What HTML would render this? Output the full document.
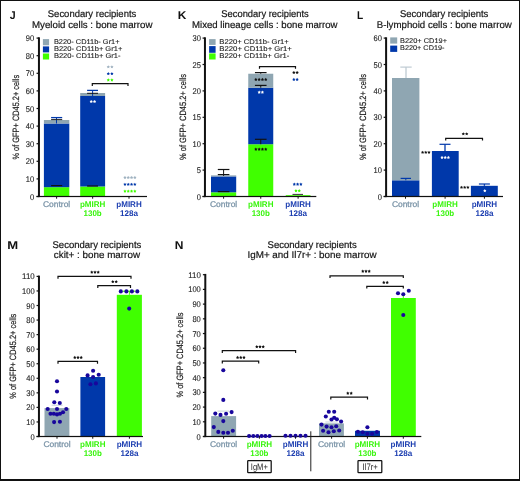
<!DOCTYPE html>
<html><head><meta charset="utf-8"><style>
html,body{margin:0;padding:0;background:#fff;overflow:hidden;width:520px;height:481px;}
svg{display:block;font-family:"Liberation Sans", sans-serif;will-change:transform;text-rendering:geometricPrecision;}
</style></head><body>
<svg width="520" height="481" viewBox="0 0 520 481">
<rect width="520" height="481" fill="#fff"/>
<rect x="42.90" y="39.10" width="6.20" height="6.20" fill="#8fa6b2"/>
<rect x="42.90" y="46.40" width="6.20" height="6.00" fill="#0038aa"/>
<rect x="42.90" y="53.50" width="6.20" height="6.00" fill="#40ff00"/>
<rect x="43.90" y="187.17" width="25.40" height="9.33" fill="#40ff00"/>
<rect x="43.90" y="123.50" width="25.40" height="63.67" fill="#0038aa"/>
<rect x="43.90" y="120.00" width="25.40" height="3.50" fill="#8fa6b2"/>
<rect x="80.20" y="186.47" width="24.90" height="10.03" fill="#40ff00"/>
<rect x="80.20" y="96.00" width="24.90" height="90.47" fill="#0038aa"/>
<rect x="80.20" y="93.00" width="24.90" height="3.00" fill="#8fa6b2"/>
<rect x="209.10" y="39.10" width="6.50" height="5.80" fill="#8fa6b2"/>
<rect x="209.10" y="46.10" width="6.50" height="6.70" fill="#0038aa"/>
<rect x="209.10" y="53.40" width="6.50" height="6.10" fill="#40ff00"/>
<rect x="211.00" y="192.28" width="25.20" height="4.22" fill="#40ff00"/>
<rect x="211.00" y="176.44" width="25.20" height="15.84" fill="#0038aa"/>
<rect x="211.00" y="175.38" width="25.20" height="1.06" fill="#8fa6b2"/>
<rect x="248.25" y="144.23" width="25.00" height="52.27" fill="#40ff00"/>
<rect x="248.25" y="87.70" width="25.00" height="56.53" fill="#0038aa"/>
<rect x="248.25" y="73.74" width="25.00" height="13.96" fill="#8fa6b2"/>
<rect x="285.75" y="195.18" width="24.75" height="1.32" fill="#40ff00"/>
<rect x="390.20" y="37.40" width="7.00" height="6.20" fill="#8fa6b2"/>
<rect x="390.20" y="45.60" width="7.00" height="6.30" fill="#0038aa"/>
<rect x="392.00" y="180.30" width="27.40" height="16.20" fill="#0038aa"/>
<rect x="392.00" y="78.00" width="27.40" height="102.30" fill="#8fa6b2"/>
<rect x="431.90" y="151.00" width="26.80" height="45.50" fill="#0038aa"/>
<rect x="470.90" y="185.80" width="26.90" height="10.70" fill="#0038aa"/>
<rect x="44.50" y="408.10" width="24.90" height="28.40" fill="#8fa6b2"/>
<rect x="80.40" y="377.00" width="24.70" height="59.50" fill="#0038aa"/>
<rect x="116.80" y="294.80" width="25.10" height="141.70" fill="#40ff00"/>
<rect x="211.20" y="416.10" width="24.90" height="20.40" fill="#8fa6b2"/>
<rect x="319.00" y="423.40" width="24.90" height="13.10" fill="#8fa6b2"/>
<rect x="355.00" y="430.80" width="25.00" height="5.70" fill="#0038aa"/>
<rect x="391.00" y="298.00" width="24.80" height="138.50" fill="#40ff00"/>
<rect x="37.95" y="37.30" width="2.00" height="159.80" fill="#111"/>
<rect x="36.55" y="195.90" width="110.45" height="1.20" fill="#111"/>
<rect x="36.55" y="195.90" width="2.40" height="1.20" fill="#111"/>
<text x="34.20" y="199.50" font-size="8.3" fill="#1e1e1e" text-anchor="end" font-weight="normal" textLength="4.20" lengthAdjust="spacingAndGlyphs" stroke="#1e1e1e" stroke-width="0.12">0</text>
<rect x="36.55" y="178.30" width="2.40" height="1.20" fill="#111"/>
<text x="34.20" y="181.90" font-size="8.3" fill="#1e1e1e" text-anchor="end" font-weight="normal" textLength="8.40" lengthAdjust="spacingAndGlyphs" stroke="#1e1e1e" stroke-width="0.12">10</text>
<rect x="36.55" y="160.70" width="2.40" height="1.20" fill="#111"/>
<text x="34.20" y="164.30" font-size="8.3" fill="#1e1e1e" text-anchor="end" font-weight="normal" textLength="8.40" lengthAdjust="spacingAndGlyphs" stroke="#1e1e1e" stroke-width="0.12">20</text>
<rect x="36.55" y="143.10" width="2.40" height="1.20" fill="#111"/>
<text x="34.20" y="146.70" font-size="8.3" fill="#1e1e1e" text-anchor="end" font-weight="normal" textLength="8.40" lengthAdjust="spacingAndGlyphs" stroke="#1e1e1e" stroke-width="0.12">30</text>
<rect x="36.55" y="125.50" width="2.40" height="1.20" fill="#111"/>
<text x="34.20" y="129.10" font-size="8.3" fill="#1e1e1e" text-anchor="end" font-weight="normal" textLength="8.40" lengthAdjust="spacingAndGlyphs" stroke="#1e1e1e" stroke-width="0.12">40</text>
<rect x="36.55" y="107.90" width="2.40" height="1.20" fill="#111"/>
<text x="34.20" y="111.50" font-size="8.3" fill="#1e1e1e" text-anchor="end" font-weight="normal" textLength="8.40" lengthAdjust="spacingAndGlyphs" stroke="#1e1e1e" stroke-width="0.12">50</text>
<rect x="36.55" y="90.30" width="2.40" height="1.20" fill="#111"/>
<text x="34.20" y="93.90" font-size="8.3" fill="#1e1e1e" text-anchor="end" font-weight="normal" textLength="8.40" lengthAdjust="spacingAndGlyphs" stroke="#1e1e1e" stroke-width="0.12">60</text>
<rect x="36.55" y="72.70" width="2.40" height="1.20" fill="#111"/>
<text x="34.20" y="76.30" font-size="8.3" fill="#1e1e1e" text-anchor="end" font-weight="normal" textLength="8.40" lengthAdjust="spacingAndGlyphs" stroke="#1e1e1e" stroke-width="0.12">70</text>
<rect x="36.55" y="55.10" width="2.40" height="1.20" fill="#111"/>
<text x="34.20" y="58.70" font-size="8.3" fill="#1e1e1e" text-anchor="end" font-weight="normal" textLength="8.40" lengthAdjust="spacingAndGlyphs" stroke="#1e1e1e" stroke-width="0.12">80</text>
<rect x="36.55" y="37.50" width="2.40" height="1.20" fill="#111"/>
<text x="34.20" y="41.10" font-size="8.3" fill="#1e1e1e" text-anchor="end" font-weight="normal" textLength="8.40" lengthAdjust="spacingAndGlyphs" stroke="#1e1e1e" stroke-width="0.12">90</text>
<rect x="203.95" y="37.30" width="2.00" height="159.80" fill="#111"/>
<rect x="202.55" y="195.90" width="113.75" height="1.20" fill="#111"/>
<rect x="202.55" y="195.90" width="2.40" height="1.20" fill="#111"/>
<text x="201.00" y="199.50" font-size="8.3" fill="#1e1e1e" text-anchor="end" font-weight="normal" textLength="4.20" lengthAdjust="spacingAndGlyphs" stroke="#1e1e1e" stroke-width="0.12">0</text>
<rect x="202.55" y="169.50" width="2.40" height="1.20" fill="#111"/>
<text x="201.00" y="173.10" font-size="8.3" fill="#1e1e1e" text-anchor="end" font-weight="normal" textLength="4.20" lengthAdjust="spacingAndGlyphs" stroke="#1e1e1e" stroke-width="0.12">5</text>
<rect x="202.55" y="143.10" width="2.40" height="1.20" fill="#111"/>
<text x="201.00" y="146.70" font-size="8.3" fill="#1e1e1e" text-anchor="end" font-weight="normal" textLength="8.40" lengthAdjust="spacingAndGlyphs" stroke="#1e1e1e" stroke-width="0.12">10</text>
<rect x="202.55" y="116.70" width="2.40" height="1.20" fill="#111"/>
<text x="201.00" y="120.30" font-size="8.3" fill="#1e1e1e" text-anchor="end" font-weight="normal" textLength="8.40" lengthAdjust="spacingAndGlyphs" stroke="#1e1e1e" stroke-width="0.12">15</text>
<rect x="202.55" y="90.30" width="2.40" height="1.20" fill="#111"/>
<text x="201.00" y="93.90" font-size="8.3" fill="#1e1e1e" text-anchor="end" font-weight="normal" textLength="8.40" lengthAdjust="spacingAndGlyphs" stroke="#1e1e1e" stroke-width="0.12">20</text>
<rect x="202.55" y="63.90" width="2.40" height="1.20" fill="#111"/>
<text x="201.00" y="67.50" font-size="8.3" fill="#1e1e1e" text-anchor="end" font-weight="normal" textLength="8.40" lengthAdjust="spacingAndGlyphs" stroke="#1e1e1e" stroke-width="0.12">25</text>
<rect x="202.55" y="37.50" width="2.40" height="1.20" fill="#111"/>
<text x="201.00" y="41.10" font-size="8.3" fill="#1e1e1e" text-anchor="end" font-weight="normal" textLength="8.40" lengthAdjust="spacingAndGlyphs" stroke="#1e1e1e" stroke-width="0.12">30</text>
<rect x="385.10" y="37.30" width="2.00" height="159.80" fill="#111"/>
<rect x="383.70" y="195.90" width="119.30" height="1.20" fill="#111"/>
<rect x="383.70" y="195.90" width="2.40" height="1.20" fill="#111"/>
<text x="382.00" y="199.50" font-size="8.3" fill="#1e1e1e" text-anchor="end" font-weight="normal" textLength="4.20" lengthAdjust="spacingAndGlyphs" stroke="#1e1e1e" stroke-width="0.12">0</text>
<rect x="383.70" y="169.50" width="2.40" height="1.20" fill="#111"/>
<text x="382.00" y="173.10" font-size="8.3" fill="#1e1e1e" text-anchor="end" font-weight="normal" textLength="8.40" lengthAdjust="spacingAndGlyphs" stroke="#1e1e1e" stroke-width="0.12">10</text>
<rect x="383.70" y="143.10" width="2.40" height="1.20" fill="#111"/>
<text x="382.00" y="146.70" font-size="8.3" fill="#1e1e1e" text-anchor="end" font-weight="normal" textLength="8.40" lengthAdjust="spacingAndGlyphs" stroke="#1e1e1e" stroke-width="0.12">20</text>
<rect x="383.70" y="116.70" width="2.40" height="1.20" fill="#111"/>
<text x="382.00" y="120.30" font-size="8.3" fill="#1e1e1e" text-anchor="end" font-weight="normal" textLength="8.40" lengthAdjust="spacingAndGlyphs" stroke="#1e1e1e" stroke-width="0.12">30</text>
<rect x="383.70" y="90.30" width="2.40" height="1.20" fill="#111"/>
<text x="382.00" y="93.90" font-size="8.3" fill="#1e1e1e" text-anchor="end" font-weight="normal" textLength="8.40" lengthAdjust="spacingAndGlyphs" stroke="#1e1e1e" stroke-width="0.12">40</text>
<rect x="383.70" y="63.90" width="2.40" height="1.20" fill="#111"/>
<text x="382.00" y="67.50" font-size="8.3" fill="#1e1e1e" text-anchor="end" font-weight="normal" textLength="8.40" lengthAdjust="spacingAndGlyphs" stroke="#1e1e1e" stroke-width="0.12">50</text>
<rect x="383.70" y="37.50" width="2.40" height="1.20" fill="#111"/>
<text x="382.00" y="41.10" font-size="8.3" fill="#1e1e1e" text-anchor="end" font-weight="normal" textLength="8.40" lengthAdjust="spacingAndGlyphs" stroke="#1e1e1e" stroke-width="0.12">60</text>
<rect x="37.95" y="275.60" width="2.00" height="161.50" fill="#111"/>
<rect x="36.55" y="435.90" width="106.45" height="1.20" fill="#111"/>
<rect x="36.55" y="435.90" width="2.40" height="1.20" fill="#111"/>
<text x="34.70" y="439.50" font-size="8.3" fill="#1e1e1e" text-anchor="end" font-weight="normal" textLength="4.20" lengthAdjust="spacingAndGlyphs" stroke="#1e1e1e" stroke-width="0.12">0</text>
<rect x="36.55" y="421.35" width="2.40" height="1.20" fill="#111"/>
<text x="34.70" y="424.95" font-size="8.3" fill="#1e1e1e" text-anchor="end" font-weight="normal" textLength="8.40" lengthAdjust="spacingAndGlyphs" stroke="#1e1e1e" stroke-width="0.12">10</text>
<rect x="36.55" y="406.79" width="2.40" height="1.20" fill="#111"/>
<text x="34.70" y="410.39" font-size="8.3" fill="#1e1e1e" text-anchor="end" font-weight="normal" textLength="8.40" lengthAdjust="spacingAndGlyphs" stroke="#1e1e1e" stroke-width="0.12">20</text>
<rect x="36.55" y="392.24" width="2.40" height="1.20" fill="#111"/>
<text x="34.70" y="395.84" font-size="8.3" fill="#1e1e1e" text-anchor="end" font-weight="normal" textLength="8.40" lengthAdjust="spacingAndGlyphs" stroke="#1e1e1e" stroke-width="0.12">30</text>
<rect x="36.55" y="377.68" width="2.40" height="1.20" fill="#111"/>
<text x="34.70" y="381.28" font-size="8.3" fill="#1e1e1e" text-anchor="end" font-weight="normal" textLength="8.40" lengthAdjust="spacingAndGlyphs" stroke="#1e1e1e" stroke-width="0.12">40</text>
<rect x="36.55" y="363.13" width="2.40" height="1.20" fill="#111"/>
<text x="34.70" y="366.73" font-size="8.3" fill="#1e1e1e" text-anchor="end" font-weight="normal" textLength="8.40" lengthAdjust="spacingAndGlyphs" stroke="#1e1e1e" stroke-width="0.12">50</text>
<rect x="36.55" y="348.57" width="2.40" height="1.20" fill="#111"/>
<text x="34.70" y="352.17" font-size="8.3" fill="#1e1e1e" text-anchor="end" font-weight="normal" textLength="8.40" lengthAdjust="spacingAndGlyphs" stroke="#1e1e1e" stroke-width="0.12">60</text>
<rect x="36.55" y="334.02" width="2.40" height="1.20" fill="#111"/>
<text x="34.70" y="337.62" font-size="8.3" fill="#1e1e1e" text-anchor="end" font-weight="normal" textLength="8.40" lengthAdjust="spacingAndGlyphs" stroke="#1e1e1e" stroke-width="0.12">70</text>
<rect x="36.55" y="319.46" width="2.40" height="1.20" fill="#111"/>
<text x="34.70" y="323.06" font-size="8.3" fill="#1e1e1e" text-anchor="end" font-weight="normal" textLength="8.40" lengthAdjust="spacingAndGlyphs" stroke="#1e1e1e" stroke-width="0.12">80</text>
<rect x="36.55" y="304.91" width="2.40" height="1.20" fill="#111"/>
<text x="34.70" y="308.51" font-size="8.3" fill="#1e1e1e" text-anchor="end" font-weight="normal" textLength="8.40" lengthAdjust="spacingAndGlyphs" stroke="#1e1e1e" stroke-width="0.12">90</text>
<rect x="36.55" y="290.35" width="2.40" height="1.20" fill="#111"/>
<text x="34.70" y="293.95" font-size="8.3" fill="#1e1e1e" text-anchor="end" font-weight="normal" textLength="12.60" lengthAdjust="spacingAndGlyphs" stroke="#1e1e1e" stroke-width="0.12">100</text>
<rect x="36.55" y="275.80" width="2.40" height="1.20" fill="#111"/>
<text x="34.70" y="279.40" font-size="8.3" fill="#1e1e1e" text-anchor="end" font-weight="normal" textLength="12.60" lengthAdjust="spacingAndGlyphs" stroke="#1e1e1e" stroke-width="0.12">110</text>
<rect x="204.30" y="273.90" width="2.00" height="163.20" fill="#111"/>
<rect x="202.90" y="435.90" width="218.40" height="1.20" fill="#111"/>
<rect x="202.90" y="435.90" width="2.40" height="1.20" fill="#111"/>
<text x="200.80" y="439.50" font-size="8.3" fill="#1e1e1e" text-anchor="end" font-weight="normal" textLength="4.20" lengthAdjust="spacingAndGlyphs" stroke="#1e1e1e" stroke-width="0.12">0</text>
<rect x="202.90" y="421.19" width="2.40" height="1.20" fill="#111"/>
<text x="200.80" y="424.79" font-size="8.3" fill="#1e1e1e" text-anchor="end" font-weight="normal" textLength="8.40" lengthAdjust="spacingAndGlyphs" stroke="#1e1e1e" stroke-width="0.12">10</text>
<rect x="202.90" y="406.48" width="2.40" height="1.20" fill="#111"/>
<text x="200.80" y="410.08" font-size="8.3" fill="#1e1e1e" text-anchor="end" font-weight="normal" textLength="8.40" lengthAdjust="spacingAndGlyphs" stroke="#1e1e1e" stroke-width="0.12">20</text>
<rect x="202.90" y="391.77" width="2.40" height="1.20" fill="#111"/>
<text x="200.80" y="395.37" font-size="8.3" fill="#1e1e1e" text-anchor="end" font-weight="normal" textLength="8.40" lengthAdjust="spacingAndGlyphs" stroke="#1e1e1e" stroke-width="0.12">30</text>
<rect x="202.90" y="377.06" width="2.40" height="1.20" fill="#111"/>
<text x="200.80" y="380.66" font-size="8.3" fill="#1e1e1e" text-anchor="end" font-weight="normal" textLength="8.40" lengthAdjust="spacingAndGlyphs" stroke="#1e1e1e" stroke-width="0.12">40</text>
<rect x="202.90" y="362.35" width="2.40" height="1.20" fill="#111"/>
<text x="200.80" y="365.95" font-size="8.3" fill="#1e1e1e" text-anchor="end" font-weight="normal" textLength="8.40" lengthAdjust="spacingAndGlyphs" stroke="#1e1e1e" stroke-width="0.12">50</text>
<rect x="202.90" y="347.65" width="2.40" height="1.20" fill="#111"/>
<text x="200.80" y="351.25" font-size="8.3" fill="#1e1e1e" text-anchor="end" font-weight="normal" textLength="8.40" lengthAdjust="spacingAndGlyphs" stroke="#1e1e1e" stroke-width="0.12">60</text>
<rect x="202.90" y="332.94" width="2.40" height="1.20" fill="#111"/>
<text x="200.80" y="336.54" font-size="8.3" fill="#1e1e1e" text-anchor="end" font-weight="normal" textLength="8.40" lengthAdjust="spacingAndGlyphs" stroke="#1e1e1e" stroke-width="0.12">70</text>
<rect x="202.90" y="318.23" width="2.40" height="1.20" fill="#111"/>
<text x="200.80" y="321.83" font-size="8.3" fill="#1e1e1e" text-anchor="end" font-weight="normal" textLength="8.40" lengthAdjust="spacingAndGlyphs" stroke="#1e1e1e" stroke-width="0.12">80</text>
<rect x="202.90" y="303.52" width="2.40" height="1.20" fill="#111"/>
<text x="200.80" y="307.12" font-size="8.3" fill="#1e1e1e" text-anchor="end" font-weight="normal" textLength="8.40" lengthAdjust="spacingAndGlyphs" stroke="#1e1e1e" stroke-width="0.12">90</text>
<rect x="202.90" y="288.81" width="2.40" height="1.20" fill="#111"/>
<text x="200.80" y="292.41" font-size="8.3" fill="#1e1e1e" text-anchor="end" font-weight="normal" textLength="12.60" lengthAdjust="spacingAndGlyphs" stroke="#1e1e1e" stroke-width="0.12">100</text>
<rect x="202.90" y="274.10" width="2.40" height="1.20" fill="#111"/>
<text x="200.80" y="277.70" font-size="8.3" fill="#1e1e1e" text-anchor="end" font-weight="normal" textLength="12.60" lengthAdjust="spacingAndGlyphs" stroke="#1e1e1e" stroke-width="0.12">110</text>
<rect x="0.00" y="0.00" width="520.00" height="1.00" fill="#111"/>
<rect x="0.00" y="0.00" width="1.00" height="481.00" fill="#111"/>
<rect x="519.00" y="0.00" width="1.00" height="481.00" fill="#111"/>
<rect x="0.00" y="479.00" width="520.00" height="2.00" fill="#111"/>
<text x="9.70" y="18.80" font-size="11.3" fill="#111" text-anchor="start" font-weight="bold" textLength="5.90" lengthAdjust="spacingAndGlyphs">J</text>
<text x="47.80" y="17.00" font-size="9.8" fill="#151515" text-anchor="start" font-weight="normal" textLength="88.50" lengthAdjust="spacingAndGlyphs" stroke="#151515" stroke-width="0.2">Secondary recipients</text>
<text x="32.00" y="28.10" font-size="9.8" fill="#151515" text-anchor="start" font-weight="normal" textLength="120.50" lengthAdjust="spacingAndGlyphs" stroke="#151515" stroke-width="0.2">Myeloid cells : bone marrow</text>
<text transform="translate(18.60,159.50) rotate(-90)" x="0" y="0" font-size="9.2" fill="#1a1a1a" stroke="#1a1a1a" stroke-width="0.18" textLength="84.60" lengthAdjust="spacingAndGlyphs">% of GFP+ CD45.2+ cells</text>
<text x="53.90" y="44.10" font-size="6.8" fill="#1c1c1c" text-anchor="start" font-weight="normal" textLength="65.70" lengthAdjust="spacingAndGlyphs" stroke="#1c1c1c" stroke-width="0.1">B220- CD11b- Gr1+</text>
<text x="53.90" y="51.10" font-size="6.8" fill="#1c1c1c" text-anchor="start" font-weight="normal" textLength="68.40" lengthAdjust="spacingAndGlyphs" stroke="#1c1c1c" stroke-width="0.1">B220- CD11b+ Gr1+</text>
<text x="53.90" y="58.00" font-size="6.8" fill="#1c1c1c" text-anchor="start" font-weight="normal" textLength="66.70" lengthAdjust="spacingAndGlyphs" stroke="#1c1c1c" stroke-width="0.1">B220- CD11b+ Gr1-</text>
<line x1="51.10" y1="185.60" x2="62.20" y2="185.60" stroke="#111" stroke-width="1.2"/>
<line x1="56.50" y1="117.40" x2="56.50" y2="123.50" stroke="#0038aa" stroke-width="1.0"/>
<line x1="51.10" y1="117.60" x2="62.20" y2="117.60" stroke="#0038aa" stroke-width="1.3"/>
<line x1="51.10" y1="119.60" x2="62.20" y2="119.60" stroke="#222" stroke-width="1.0"/>
<line x1="87.10" y1="186.00" x2="98.00" y2="186.00" stroke="#111" stroke-width="1.2"/>
<line x1="92.60" y1="90.40" x2="92.60" y2="96.00" stroke="#0038aa" stroke-width="1.0"/>
<line x1="87.10" y1="90.40" x2="98.00" y2="90.40" stroke="#0038aa" stroke-width="1.3"/>
<line x1="87.10" y1="93.30" x2="98.00" y2="93.30" stroke="#111" stroke-width="1.0"/>
<path d="M91.25,99.90 L91.81,100.83 L92.87,101.07 L92.15,101.89 L92.25,102.98 L91.25,102.55 L90.25,102.98 L90.35,101.89 L89.63,101.07 L90.69,100.83Z M94.55,99.90 L95.11,100.83 L96.17,101.07 L95.45,101.89 L95.55,102.98 L94.55,102.55 L93.55,102.98 L93.65,101.89 L92.93,101.07 L93.99,100.83Z" fill="#fff"/>
<path d="M92.30,85.90 V83.70 H128.00 V85.90" fill="none" stroke="#111" stroke-width="1.2"/>
<path d="M108.30,65.20 L108.86,66.13 L109.92,66.37 L109.20,67.19 L109.30,68.28 L108.30,67.85 L107.30,68.28 L107.40,67.19 L106.68,66.37 L107.74,66.13Z M111.90,65.20 L112.46,66.13 L113.52,66.37 L112.80,67.19 L112.90,68.28 L111.90,67.85 L110.90,68.28 L111.00,67.19 L110.28,66.37 L111.34,66.13Z" fill="#9fb2c0"/>
<path d="M108.30,72.00 L108.86,72.93 L109.92,73.17 L109.20,73.99 L109.30,75.08 L108.30,74.65 L107.30,75.08 L107.40,73.99 L106.68,73.17 L107.74,72.93Z M111.90,72.00 L112.46,72.93 L113.52,73.17 L112.80,73.99 L112.90,75.08 L111.90,74.65 L110.90,75.08 L111.00,73.99 L110.28,73.17 L111.34,72.93Z" fill="#0038aa"/>
<path d="M108.30,78.30 L108.86,79.23 L109.92,79.47 L109.20,80.29 L109.30,81.38 L108.30,80.95 L107.30,81.38 L107.40,80.29 L106.68,79.47 L107.74,79.23Z M111.90,78.30 L112.46,79.23 L113.52,79.47 L112.80,80.29 L112.90,81.38 L111.90,80.95 L110.90,81.38 L111.00,80.29 L110.28,79.47 L111.34,79.23Z" fill="#40ff00"/>
<path d="M124.95,175.90 L125.51,176.83 L126.57,177.07 L125.85,177.89 L125.95,178.98 L124.95,178.55 L123.95,178.98 L124.05,177.89 L123.33,177.07 L124.39,176.83Z M128.25,175.90 L128.81,176.83 L129.87,177.07 L129.15,177.89 L129.25,178.98 L128.25,178.55 L127.25,178.98 L127.35,177.89 L126.63,177.07 L127.69,176.83Z M131.55,175.90 L132.11,176.83 L133.17,177.07 L132.45,177.89 L132.55,178.98 L131.55,178.55 L130.55,178.98 L130.65,177.89 L129.93,177.07 L130.99,176.83Z M134.85,175.90 L135.41,176.83 L136.47,177.07 L135.75,177.89 L135.85,178.98 L134.85,178.55 L133.85,178.98 L133.95,177.89 L133.23,177.07 L134.29,176.83Z" fill="#9fb2c0"/>
<path d="M124.95,182.70 L125.51,183.63 L126.57,183.87 L125.85,184.69 L125.95,185.78 L124.95,185.35 L123.95,185.78 L124.05,184.69 L123.33,183.87 L124.39,183.63Z M128.25,182.70 L128.81,183.63 L129.87,183.87 L129.15,184.69 L129.25,185.78 L128.25,185.35 L127.25,185.78 L127.35,184.69 L126.63,183.87 L127.69,183.63Z M131.55,182.70 L132.11,183.63 L133.17,183.87 L132.45,184.69 L132.55,185.78 L131.55,185.35 L130.55,185.78 L130.65,184.69 L129.93,183.87 L130.99,183.63Z M134.85,182.70 L135.41,183.63 L136.47,183.87 L135.75,184.69 L135.85,185.78 L134.85,185.35 L133.85,185.78 L133.95,184.69 L133.23,183.87 L134.29,183.63Z" fill="#0038aa"/>
<path d="M124.95,189.50 L125.51,190.43 L126.57,190.67 L125.85,191.49 L125.95,192.58 L124.95,192.15 L123.95,192.58 L124.05,191.49 L123.33,190.67 L124.39,190.43Z M128.25,189.50 L128.81,190.43 L129.87,190.67 L129.15,191.49 L129.25,192.58 L128.25,192.15 L127.25,192.58 L127.35,191.49 L126.63,190.67 L127.69,190.43Z M131.55,189.50 L132.11,190.43 L133.17,190.67 L132.45,191.49 L132.55,192.58 L131.55,192.15 L130.55,192.58 L130.65,191.49 L129.93,190.67 L130.99,190.43Z M134.85,189.50 L135.41,190.43 L136.47,190.67 L135.75,191.49 L135.85,192.58 L134.85,192.15 L133.85,192.58 L133.95,191.49 L133.23,190.67 L134.29,190.43Z" fill="#40ff00"/>
<rect x="56.10" y="196.50" width="1.00" height="2.20" fill="#111"/>
<rect x="92.15" y="196.50" width="1.00" height="2.20" fill="#111"/>
<rect x="128.50" y="196.50" width="1.00" height="2.20" fill="#111"/>
<text x="56.60" y="206.60" font-size="8.3" fill="#7d96a9" text-anchor="middle" font-weight="normal" textLength="27.20" lengthAdjust="spacingAndGlyphs" stroke="#7d96a9" stroke-width="0.3">Control</text>
<text x="92.65" y="206.60" font-size="8.2" fill="#38f50c" text-anchor="middle" font-weight="bold" textLength="25.50" lengthAdjust="spacingAndGlyphs">pMIRH</text>
<text x="92.65" y="215.80" font-size="8.2" fill="#38f50c" text-anchor="middle" font-weight="bold" textLength="18.20" lengthAdjust="spacingAndGlyphs">130b</text>
<text x="129.00" y="206.60" font-size="8.2" fill="#1b3db0" text-anchor="middle" font-weight="bold" textLength="25.50" lengthAdjust="spacingAndGlyphs">pMIRH</text>
<text x="129.00" y="215.80" font-size="8.2" fill="#1b3db0" text-anchor="middle" font-weight="bold" textLength="18.00" lengthAdjust="spacingAndGlyphs">128a</text>
<text x="177.80" y="18.90" font-size="11.3" fill="#111" text-anchor="start" font-weight="bold" textLength="8.60" lengthAdjust="spacingAndGlyphs">K</text>
<text x="221.30" y="17.00" font-size="9.8" fill="#151515" text-anchor="start" font-weight="normal" textLength="87.50" lengthAdjust="spacingAndGlyphs" stroke="#151515" stroke-width="0.2">Secondary recipients</text>
<text x="192.00" y="28.10" font-size="9.8" fill="#151515" text-anchor="start" font-weight="normal" textLength="145.50" lengthAdjust="spacingAndGlyphs" stroke="#151515" stroke-width="0.2">Mixed lineage cells : bone marrow</text>
<text transform="translate(186.00,160.00) rotate(-90)" x="0" y="0" font-size="9.2" fill="#1a1a1a" stroke="#1a1a1a" stroke-width="0.18" textLength="86.00" lengthAdjust="spacingAndGlyphs">% of GFP+ CD45.2+ cells</text>
<text x="219.30" y="44.10" font-size="6.8" fill="#1c1c1c" text-anchor="start" font-weight="normal" textLength="69.50" lengthAdjust="spacingAndGlyphs" stroke="#1c1c1c" stroke-width="0.1">B220+ CD11b- Gr1+</text>
<text x="219.30" y="51.10" font-size="6.8" fill="#1c1c1c" text-anchor="start" font-weight="normal" textLength="72.50" lengthAdjust="spacingAndGlyphs" stroke="#1c1c1c" stroke-width="0.1">B220+ CD11b+ Gr1+</text>
<text x="219.30" y="58.00" font-size="6.8" fill="#1c1c1c" text-anchor="start" font-weight="normal" textLength="70.00" lengthAdjust="spacingAndGlyphs" stroke="#1c1c1c" stroke-width="0.1">B220+ CD11b+ Gr1-</text>
<line x1="223.60" y1="169.50" x2="223.60" y2="175.91" stroke="#111" stroke-width="1.0"/>
<line x1="217.80" y1="169.50" x2="229.40" y2="169.50" stroke="#111" stroke-width="1.2"/>
<line x1="217.80" y1="174.60" x2="229.40" y2="174.60" stroke="#111" stroke-width="1.2"/>
<line x1="217.80" y1="191.60" x2="229.40" y2="191.60" stroke="#111" stroke-width="1.2"/>
<line x1="260.75" y1="72.60" x2="260.75" y2="73.74" stroke="#111" stroke-width="1.0"/>
<line x1="254.95" y1="72.60" x2="266.55" y2="72.60" stroke="#111" stroke-width="1.2"/>
<line x1="260.75" y1="85.40" x2="260.75" y2="87.70" stroke="#111" stroke-width="1.0"/>
<line x1="254.95" y1="85.40" x2="266.55" y2="85.40" stroke="#111" stroke-width="1.2"/>
<line x1="260.75" y1="139.30" x2="260.75" y2="144.23" stroke="#111" stroke-width="1.0"/>
<line x1="254.95" y1="139.30" x2="266.55" y2="139.30" stroke="#111" stroke-width="1.2"/>
<path d="M255.85,77.80 L256.41,78.73 L257.47,78.97 L256.75,79.79 L256.85,80.88 L255.85,80.45 L254.85,80.88 L254.95,79.79 L254.23,78.97 L255.29,78.73Z M259.15,77.80 L259.71,78.73 L260.77,78.97 L260.05,79.79 L260.15,80.88 L259.15,80.45 L258.15,80.88 L258.25,79.79 L257.53,78.97 L258.59,78.73Z M262.45,77.80 L263.01,78.73 L264.07,78.97 L263.35,79.79 L263.45,80.88 L262.45,80.45 L261.45,80.88 L261.55,79.79 L260.83,78.97 L261.89,78.73Z M265.75,77.80 L266.31,78.73 L267.37,78.97 L266.65,79.79 L266.75,80.88 L265.75,80.45 L264.75,80.88 L264.85,79.79 L264.13,78.97 L265.19,78.73Z" fill="#111"/>
<path d="M259.20,90.60 L259.76,91.53 L260.82,91.77 L260.10,92.59 L260.20,93.68 L259.20,93.25 L258.20,93.68 L258.30,92.59 L257.58,91.77 L258.64,91.53Z M262.40,90.60 L262.96,91.53 L264.02,91.77 L263.30,92.59 L263.40,93.68 L262.40,93.25 L261.40,93.68 L261.50,92.59 L260.78,91.77 L261.84,91.53Z" fill="#fff"/>
<path d="M255.85,147.60 L256.41,148.53 L257.47,148.77 L256.75,149.59 L256.85,150.68 L255.85,150.25 L254.85,150.68 L254.95,149.59 L254.23,148.77 L255.29,148.53Z M259.15,147.60 L259.71,148.53 L260.77,148.77 L260.05,149.59 L260.15,150.68 L259.15,150.25 L258.15,150.68 L258.25,149.59 L257.53,148.77 L258.59,148.53Z M262.45,147.60 L263.01,148.53 L264.07,148.77 L263.35,149.59 L263.45,150.68 L262.45,150.25 L261.45,150.68 L261.55,149.59 L260.83,148.77 L261.89,148.53Z M265.75,147.60 L266.31,148.53 L267.37,148.77 L266.65,149.59 L266.75,150.68 L265.75,150.25 L264.75,150.68 L264.85,149.59 L264.13,148.77 L265.19,148.53Z" fill="#111"/>
<path d="M259.50,68.80 V66.60 H295.50 V68.80" fill="none" stroke="#111" stroke-width="1.2"/>
<path d="M293.85,70.90 L294.41,71.83 L295.47,72.07 L294.75,72.89 L294.85,73.98 L293.85,73.55 L292.85,73.98 L292.95,72.89 L292.23,72.07 L293.29,71.83Z M297.15,70.90 L297.71,71.83 L298.77,72.07 L298.05,72.89 L298.15,73.98 L297.15,73.55 L296.15,73.98 L296.25,72.89 L295.53,72.07 L296.59,71.83Z" fill="#111"/>
<path d="M293.85,77.80 L294.41,78.73 L295.47,78.97 L294.75,79.79 L294.85,80.88 L293.85,80.45 L292.85,80.88 L292.95,79.79 L292.23,78.97 L293.29,78.73Z M297.15,77.80 L297.71,78.73 L298.77,78.97 L298.05,79.79 L298.15,80.88 L297.15,80.45 L296.15,80.88 L296.25,79.79 L295.53,78.97 L296.59,78.73Z" fill="#0038aa"/>
<line x1="292.50" y1="194.40" x2="303.00" y2="194.40" stroke="#333" stroke-width="1.0"/>
<path d="M294.30,182.60 L294.86,183.53 L295.92,183.77 L295.20,184.59 L295.30,185.68 L294.30,185.25 L293.30,185.68 L293.40,184.59 L292.68,183.77 L293.74,183.53Z M297.60,182.60 L298.16,183.53 L299.22,183.77 L298.50,184.59 L298.60,185.68 L297.60,185.25 L296.60,185.68 L296.70,184.59 L295.98,183.77 L297.04,183.53Z M300.90,182.60 L301.46,183.53 L302.52,183.77 L301.80,184.59 L301.90,185.68 L300.90,185.25 L299.90,185.68 L300.00,184.59 L299.28,183.77 L300.34,183.53Z" fill="#0038aa"/>
<path d="M295.95,189.10 L296.51,190.03 L297.57,190.27 L296.85,191.09 L296.95,192.18 L295.95,191.75 L294.95,192.18 L295.05,191.09 L294.33,190.27 L295.39,190.03Z M299.25,189.10 L299.81,190.03 L300.87,190.27 L300.15,191.09 L300.25,192.18 L299.25,191.75 L298.25,192.18 L298.35,191.09 L297.63,190.27 L298.69,190.03Z" fill="#40ff00"/>
<rect x="223.10" y="196.50" width="1.00" height="2.20" fill="#111"/>
<rect x="260.25" y="196.50" width="1.00" height="2.20" fill="#111"/>
<rect x="297.60" y="196.50" width="1.00" height="2.20" fill="#111"/>
<text x="223.60" y="206.60" font-size="8.3" fill="#7d96a9" text-anchor="middle" font-weight="normal" textLength="27.20" lengthAdjust="spacingAndGlyphs" stroke="#7d96a9" stroke-width="0.3">Control</text>
<text x="260.75" y="206.60" font-size="8.2" fill="#38f50c" text-anchor="middle" font-weight="bold" textLength="25.50" lengthAdjust="spacingAndGlyphs">pMIRH</text>
<text x="260.75" y="215.80" font-size="8.2" fill="#38f50c" text-anchor="middle" font-weight="bold" textLength="18.20" lengthAdjust="spacingAndGlyphs">130b</text>
<text x="298.10" y="206.60" font-size="8.2" fill="#1b3db0" text-anchor="middle" font-weight="bold" textLength="25.50" lengthAdjust="spacingAndGlyphs">pMIRH</text>
<text x="298.10" y="215.80" font-size="8.2" fill="#1b3db0" text-anchor="middle" font-weight="bold" textLength="18.00" lengthAdjust="spacingAndGlyphs">128a</text>
<text x="356.90" y="18.90" font-size="11.3" fill="#111" text-anchor="start" font-weight="bold" textLength="6.20" lengthAdjust="spacingAndGlyphs">L</text>
<text x="400.00" y="17.00" font-size="9.8" fill="#151515" text-anchor="start" font-weight="normal" textLength="88.30" lengthAdjust="spacingAndGlyphs" stroke="#151515" stroke-width="0.2">Secondary recipients</text>
<text x="376.80" y="28.10" font-size="9.8" fill="#151515" text-anchor="start" font-weight="normal" textLength="135.00" lengthAdjust="spacingAndGlyphs" stroke="#151515" stroke-width="0.2">B-lymphoid cells : bone marrow</text>
<text transform="translate(366.00,160.00) rotate(-90)" x="0" y="0" font-size="9.2" fill="#1a1a1a" stroke="#1a1a1a" stroke-width="0.18" textLength="86.00" lengthAdjust="spacingAndGlyphs">% of GFP+ CD45.2+ cells</text>
<text x="400.00" y="43.00" font-size="6.8" fill="#1c1c1c" text-anchor="start" font-weight="normal" textLength="47.00" lengthAdjust="spacingAndGlyphs" stroke="#1c1c1c" stroke-width="0.1">B220+ CD19+</text>
<text x="400.00" y="50.30" font-size="6.8" fill="#1c1c1c" text-anchor="start" font-weight="normal" textLength="44.50" lengthAdjust="spacingAndGlyphs" stroke="#1c1c1c" stroke-width="0.1">B220+ CD19-</text>
<line x1="406.00" y1="67.10" x2="406.00" y2="78.00" stroke="#bfcbd3" stroke-width="1.3"/>
<line x1="400.30" y1="67.10" x2="411.70" y2="67.10" stroke="#bfcbd3" stroke-width="1.2"/>
<line x1="405.80" y1="178.40" x2="405.80" y2="180.30" stroke="#0038aa" stroke-width="1.0"/>
<line x1="400.60" y1="178.40" x2="411.00" y2="178.40" stroke="#0038aa" stroke-width="1.2"/>
<line x1="445.00" y1="144.30" x2="445.00" y2="151.00" stroke="#0038aa" stroke-width="1.3"/>
<line x1="439.50" y1="144.30" x2="450.50" y2="144.30" stroke="#0038aa" stroke-width="1.2"/>
<path d="M442.00,155.80 L442.56,156.73 L443.62,156.97 L442.90,157.79 L443.00,158.88 L442.00,158.45 L441.00,158.88 L441.10,157.79 L440.38,156.97 L441.44,156.73Z M445.20,155.80 L445.76,156.73 L446.82,156.97 L446.10,157.79 L446.20,158.88 L445.20,158.45 L444.20,158.88 L444.30,157.79 L443.58,156.97 L444.64,156.73Z M448.40,155.80 L448.96,156.73 L450.02,156.97 L449.30,157.79 L449.40,158.88 L448.40,158.45 L447.40,158.88 L447.50,157.79 L446.78,156.97 L447.84,156.73Z" fill="#fff"/>
<path d="M422.60,150.70 L423.16,151.63 L424.22,151.87 L423.50,152.69 L423.60,153.78 L422.60,153.35 L421.60,153.78 L421.70,152.69 L420.98,151.87 L422.04,151.63Z M425.80,150.70 L426.36,151.63 L427.42,151.87 L426.70,152.69 L426.80,153.78 L425.80,153.35 L424.80,153.78 L424.90,152.69 L424.18,151.87 L425.24,151.63Z M429.00,150.70 L429.56,151.63 L430.62,151.87 L429.90,152.69 L430.00,153.78 L429.00,153.35 L428.00,153.78 L428.10,152.69 L427.38,151.87 L428.44,151.63Z" fill="#111"/>
<line x1="484.40" y1="184.00" x2="484.40" y2="185.80" stroke="#0038aa" stroke-width="1.3"/>
<line x1="478.90" y1="184.00" x2="489.90" y2="184.00" stroke="#0038aa" stroke-width="1.2"/>
<path d="M484.80,189.10 L485.36,190.03 L486.42,190.27 L485.70,191.09 L485.80,192.18 L484.80,191.75 L483.80,192.18 L483.90,191.09 L483.18,190.27 L484.24,190.03Z" fill="#fff"/>
<path d="M461.50,185.70 L462.06,186.63 L463.12,186.87 L462.40,187.69 L462.50,188.78 L461.50,188.35 L460.50,188.78 L460.60,187.69 L459.88,186.87 L460.94,186.63Z M464.70,185.70 L465.26,186.63 L466.32,186.87 L465.60,187.69 L465.70,188.78 L464.70,188.35 L463.70,188.78 L463.80,187.69 L463.08,186.87 L464.14,186.63Z M467.90,185.70 L468.46,186.63 L469.52,186.87 L468.80,187.69 L468.90,188.78 L467.90,188.35 L466.90,188.78 L467.00,187.69 L466.28,186.87 L467.34,186.63Z" fill="#111"/>
<path d="M445.70,140.60 V138.40 H482.50 V140.60" fill="none" stroke="#111" stroke-width="1.2"/>
<path d="M463.30,132.20 L463.86,133.13 L464.92,133.37 L464.20,134.19 L464.30,135.28 L463.30,134.85 L462.30,135.28 L462.40,134.19 L461.68,133.37 L462.74,133.13Z M466.70,132.20 L467.26,133.13 L468.32,133.37 L467.60,134.19 L467.70,135.28 L466.70,134.85 L465.70,135.28 L465.80,134.19 L465.08,133.37 L466.14,133.13Z" fill="#111"/>
<rect x="405.00" y="196.50" width="1.00" height="2.20" fill="#111"/>
<rect x="444.60" y="196.50" width="1.00" height="2.20" fill="#111"/>
<rect x="483.90" y="196.50" width="1.00" height="2.20" fill="#111"/>
<text x="405.50" y="206.60" font-size="8.3" fill="#7d96a9" text-anchor="middle" font-weight="normal" textLength="27.20" lengthAdjust="spacingAndGlyphs" stroke="#7d96a9" stroke-width="0.3">Control</text>
<text x="445.10" y="206.60" font-size="8.2" fill="#38f50c" text-anchor="middle" font-weight="bold" textLength="25.50" lengthAdjust="spacingAndGlyphs">pMIRH</text>
<text x="445.10" y="215.80" font-size="8.2" fill="#38f50c" text-anchor="middle" font-weight="bold" textLength="18.20" lengthAdjust="spacingAndGlyphs">130b</text>
<text x="484.40" y="206.60" font-size="8.2" fill="#1b3db0" text-anchor="middle" font-weight="bold" textLength="25.50" lengthAdjust="spacingAndGlyphs">pMIRH</text>
<text x="484.40" y="215.80" font-size="8.2" fill="#1b3db0" text-anchor="middle" font-weight="bold" textLength="18.00" lengthAdjust="spacingAndGlyphs">128a</text>
<text x="7.30" y="249.30" font-size="11.3" fill="#111" text-anchor="start" font-weight="bold" textLength="10.90" lengthAdjust="spacingAndGlyphs">M</text>
<text x="52.50" y="247.90" font-size="9.8" fill="#151515" text-anchor="start" font-weight="normal" textLength="88.80" lengthAdjust="spacingAndGlyphs" stroke="#151515" stroke-width="0.2">Secondary recipients</text>
<text x="53.80" y="258.40" font-size="9.8" fill="#151515" text-anchor="start" font-weight="normal" textLength="86.20" lengthAdjust="spacingAndGlyphs" stroke="#151515" stroke-width="0.2">ckit+ : bone marrow</text>
<text transform="translate(16.20,398.70) rotate(-90)" x="0" y="0" font-size="9.2" fill="#1a1a1a" stroke="#1a1a1a" stroke-width="0.18" textLength="85.00" lengthAdjust="spacingAndGlyphs">% of GFP+ CD45.2+ cells</text>
<line x1="51.60" y1="405.20" x2="62.60" y2="405.20" stroke="#c8d3da" stroke-width="1.0"/>
<line x1="129.40" y1="291.20" x2="129.40" y2="294.80" stroke="#40ff00" stroke-width="1.0"/>
<line x1="122.90" y1="291.20" x2="135.00" y2="291.20" stroke="#40ff00" stroke-width="1.2"/>
<circle cx="57.00" cy="381.20" r="2.05" fill="#18069c"/>
<circle cx="57.00" cy="391.50" r="2.05" fill="#18069c"/>
<circle cx="54.30" cy="402.30" r="2.05" fill="#18069c"/>
<circle cx="59.80" cy="403.00" r="2.05" fill="#18069c"/>
<circle cx="47.70" cy="409.00" r="2.05" fill="#18069c"/>
<circle cx="57.00" cy="409.00" r="2.05" fill="#18069c"/>
<circle cx="66.30" cy="409.00" r="2.05" fill="#18069c"/>
<circle cx="50.50" cy="413.70" r="2.05" fill="#18069c"/>
<circle cx="53.80" cy="413.70" r="2.05" fill="#18069c"/>
<circle cx="57.00" cy="414.40" r="2.05" fill="#18069c"/>
<circle cx="60.00" cy="413.70" r="2.05" fill="#18069c"/>
<circle cx="63.00" cy="412.20" r="2.05" fill="#18069c"/>
<circle cx="54.10" cy="422.10" r="2.05" fill="#18069c"/>
<circle cx="59.90" cy="421.70" r="2.05" fill="#18069c"/>
<circle cx="93.10" cy="370.70" r="2.05" fill="#18069c"/>
<circle cx="87.60" cy="375.40" r="2.05" fill="#18069c"/>
<circle cx="98.70" cy="374.80" r="2.05" fill="#18069c"/>
<circle cx="93.10" cy="377.00" r="2.05" fill="#18069c"/>
<circle cx="90.40" cy="384.30" r="2.05" fill="#18069c"/>
<circle cx="95.90" cy="383.40" r="2.05" fill="#18069c"/>
<circle cx="120.80" cy="291.40" r="2.05" fill="#18069c"/>
<circle cx="126.40" cy="291.40" r="2.05" fill="#18069c"/>
<circle cx="131.90" cy="291.40" r="2.05" fill="#18069c"/>
<circle cx="137.30" cy="291.40" r="2.05" fill="#18069c"/>
<circle cx="129.20" cy="308.60" r="2.05" fill="#18069c"/>
<path d="M58.00,278.80 V276.40 H131.00 V278.80" fill="none" stroke="#111" stroke-width="1.2"/>
<path d="M91.80,270.50 L92.36,271.43 L93.42,271.67 L92.70,272.49 L92.80,273.58 L91.80,273.15 L90.80,273.58 L90.90,272.49 L90.18,271.67 L91.24,271.43Z M95.00,270.50 L95.56,271.43 L96.62,271.67 L95.90,272.49 L96.00,273.58 L95.00,273.15 L94.00,273.58 L94.10,272.49 L93.38,271.67 L94.44,271.43Z M98.20,270.50 L98.76,271.43 L99.82,271.67 L99.10,272.49 L99.20,273.58 L98.20,273.15 L97.20,273.58 L97.30,272.49 L96.58,271.67 L97.64,271.43Z" fill="#111"/>
<path d="M97.80,288.00 V285.70 H130.50 V288.00" fill="none" stroke="#111" stroke-width="1.2"/>
<path d="M112.80,280.00 L113.36,280.93 L114.42,281.17 L113.70,281.99 L113.80,283.08 L112.80,282.65 L111.80,283.08 L111.90,281.99 L111.18,281.17 L112.24,280.93Z M116.20,280.00 L116.76,280.93 L117.82,281.17 L117.10,281.99 L117.20,283.08 L116.20,282.65 L115.20,283.08 L115.30,281.99 L114.58,281.17 L115.64,280.93Z" fill="#111"/>
<path d="M58.00,363.70 V361.30 H97.50 V363.70" fill="none" stroke="#111" stroke-width="1.2"/>
<path d="M74.80,355.80 L75.36,356.73 L76.42,356.97 L75.70,357.79 L75.80,358.88 L74.80,358.45 L73.80,358.88 L73.90,357.79 L73.18,356.97 L74.24,356.73Z M78.00,355.80 L78.56,356.73 L79.62,356.97 L78.90,357.79 L79.00,358.88 L78.00,358.45 L77.00,358.88 L77.10,357.79 L76.38,356.97 L77.44,356.73Z M81.20,355.80 L81.76,356.73 L82.82,356.97 L82.10,357.79 L82.20,358.88 L81.20,358.45 L80.20,358.88 L80.30,357.79 L79.58,356.97 L80.64,356.73Z" fill="#111"/>
<rect x="56.50" y="436.50" width="1.00" height="2.20" fill="#111"/>
<rect x="92.25" y="436.50" width="1.00" height="2.20" fill="#111"/>
<rect x="128.90" y="436.50" width="1.00" height="2.20" fill="#111"/>
<text x="57.00" y="446.60" font-size="8.3" fill="#7d96a9" text-anchor="middle" font-weight="normal" textLength="27.20" lengthAdjust="spacingAndGlyphs" stroke="#7d96a9" stroke-width="0.3">Control</text>
<text x="92.75" y="446.60" font-size="8.2" fill="#38f50c" text-anchor="middle" font-weight="bold" textLength="25.50" lengthAdjust="spacingAndGlyphs">pMIRH</text>
<text x="92.75" y="455.50" font-size="8.2" fill="#38f50c" text-anchor="middle" font-weight="bold" textLength="18.20" lengthAdjust="spacingAndGlyphs">130b</text>
<text x="129.40" y="446.60" font-size="8.2" fill="#1b3db0" text-anchor="middle" font-weight="bold" textLength="25.50" lengthAdjust="spacingAndGlyphs">pMIRH</text>
<text x="129.40" y="455.50" font-size="8.2" fill="#1b3db0" text-anchor="middle" font-weight="bold" textLength="18.00" lengthAdjust="spacingAndGlyphs">128a</text>
<text x="174.80" y="249.30" font-size="11.3" fill="#111" text-anchor="start" font-weight="bold" textLength="8.70" lengthAdjust="spacingAndGlyphs">N</text>
<text x="267.50" y="247.90" font-size="9.8" fill="#151515" text-anchor="start" font-weight="normal" textLength="89.30" lengthAdjust="spacingAndGlyphs" stroke="#151515" stroke-width="0.2">Secondary recipients</text>
<text x="247.50" y="258.40" font-size="9.8" fill="#151515" text-anchor="start" font-weight="normal" textLength="129.00" lengthAdjust="spacingAndGlyphs" stroke="#151515" stroke-width="0.2">IgM+ and Il7r+ : bone marrow</text>
<text transform="translate(183.00,397.50) rotate(-90)" x="0" y="0" font-size="9.2" fill="#1a1a1a" stroke="#1a1a1a" stroke-width="0.18" textLength="84.90" lengthAdjust="spacingAndGlyphs">% of GFP+ CD45.2+ cells</text>
<line x1="217.50" y1="411.10" x2="229.10" y2="411.10" stroke="#c8d3da" stroke-width="1.0"/>
<circle cx="223.30" cy="370.30" r="2.05" fill="#18069c"/>
<circle cx="223.30" cy="399.90" r="2.05" fill="#18069c"/>
<circle cx="215.30" cy="413.60" r="2.05" fill="#18069c"/>
<circle cx="220.50" cy="414.90" r="2.05" fill="#18069c"/>
<circle cx="226.10" cy="413.70" r="2.05" fill="#18069c"/>
<circle cx="231.60" cy="412.10" r="2.05" fill="#18069c"/>
<circle cx="223.30" cy="421.10" r="2.05" fill="#18069c"/>
<circle cx="213.80" cy="427.10" r="2.05" fill="#18069c"/>
<circle cx="218.30" cy="431.90" r="2.05" fill="#18069c"/>
<circle cx="223.30" cy="432.70" r="2.05" fill="#18069c"/>
<circle cx="228.00" cy="432.70" r="2.05" fill="#18069c"/>
<circle cx="232.80" cy="430.70" r="2.05" fill="#18069c"/>
<circle cx="249.10" cy="436.00" r="2.05" fill="#18069c"/>
<circle cx="253.30" cy="436.00" r="2.05" fill="#18069c"/>
<circle cx="257.40" cy="436.00" r="2.05" fill="#18069c"/>
<circle cx="261.60" cy="436.00" r="2.05" fill="#18069c"/>
<circle cx="265.40" cy="436.00" r="2.05" fill="#18069c"/>
<circle cx="269.60" cy="436.00" r="2.05" fill="#18069c"/>
<circle cx="285.50" cy="435.80" r="2.05" fill="#18069c"/>
<circle cx="290.50" cy="435.80" r="2.05" fill="#18069c"/>
<circle cx="295.50" cy="435.80" r="2.05" fill="#18069c"/>
<circle cx="300.50" cy="435.80" r="2.05" fill="#18069c"/>
<circle cx="305.50" cy="435.80" r="2.05" fill="#18069c"/>
<line x1="325.40" y1="422.00" x2="337.70" y2="422.00" stroke="#c8d3da" stroke-width="1.0"/>
<circle cx="328.80" cy="411.80" r="2.05" fill="#18069c"/>
<circle cx="334.20" cy="411.80" r="2.05" fill="#18069c"/>
<circle cx="325.80" cy="416.50" r="2.05" fill="#18069c"/>
<circle cx="334.20" cy="417.70" r="2.05" fill="#18069c"/>
<circle cx="331.50" cy="419.50" r="2.05" fill="#18069c"/>
<circle cx="336.90" cy="419.20" r="2.05" fill="#18069c"/>
<circle cx="341.10" cy="421.50" r="2.05" fill="#18069c"/>
<circle cx="321.50" cy="424.60" r="2.05" fill="#18069c"/>
<circle cx="326.60" cy="426.60" r="2.05" fill="#18069c"/>
<circle cx="331.50" cy="427.20" r="2.05" fill="#18069c"/>
<circle cx="336.20" cy="426.20" r="2.05" fill="#18069c"/>
<circle cx="323.10" cy="430.80" r="2.05" fill="#18069c"/>
<circle cx="328.50" cy="432.30" r="2.05" fill="#18069c"/>
<circle cx="333.80" cy="431.20" r="2.05" fill="#18069c"/>
<circle cx="339.20" cy="430.50" r="2.05" fill="#18069c"/>
<circle cx="367.40" cy="427.20" r="2.05" fill="#18069c"/>
<circle cx="357.90" cy="431.80" r="2.05" fill="#18069c"/>
<circle cx="362.70" cy="432.30" r="2.05" fill="#18069c"/>
<circle cx="367.40" cy="433.70" r="2.05" fill="#18069c"/>
<circle cx="372.10" cy="433.70" r="2.05" fill="#18069c"/>
<circle cx="376.90" cy="432.00" r="2.05" fill="#18069c"/>
<line x1="403.30" y1="293.80" x2="403.30" y2="298.00" stroke="#40ff00" stroke-width="1.0"/>
<circle cx="398.00" cy="293.30" r="2.05" fill="#18069c"/>
<circle cx="403.30" cy="294.30" r="2.05" fill="#18069c"/>
<circle cx="408.80" cy="290.80" r="2.05" fill="#18069c"/>
<circle cx="403.30" cy="315.00" r="2.05" fill="#18069c"/>
<path d="M222.30,353.00 V350.60 H295.60 V353.00" fill="none" stroke="#111" stroke-width="1.2"/>
<path d="M256.80,345.10 L257.36,346.03 L258.42,346.27 L257.70,347.09 L257.80,348.18 L256.80,347.75 L255.80,348.18 L255.90,347.09 L255.18,346.27 L256.24,346.03Z M260.00,345.10 L260.56,346.03 L261.62,346.27 L260.90,347.09 L261.00,348.18 L260.00,347.75 L259.00,348.18 L259.10,347.09 L258.38,346.27 L259.44,346.03Z M263.20,345.10 L263.76,346.03 L264.82,346.27 L264.10,347.09 L264.20,348.18 L263.20,347.75 L262.20,348.18 L262.30,347.09 L261.58,346.27 L262.64,346.03Z" fill="#111"/>
<path d="M222.30,363.60 V361.20 H258.70 V363.60" fill="none" stroke="#111" stroke-width="1.2"/>
<path d="M237.60,355.80 L238.16,356.73 L239.22,356.97 L238.50,357.79 L238.60,358.88 L237.60,358.45 L236.60,358.88 L236.70,357.79 L235.98,356.97 L237.04,356.73Z M240.80,355.80 L241.36,356.73 L242.42,356.97 L241.70,357.79 L241.80,358.88 L240.80,358.45 L239.80,358.88 L239.90,357.79 L239.18,356.97 L240.24,356.73Z M244.00,355.80 L244.56,356.73 L245.62,356.97 L244.90,357.79 L245.00,358.88 L244.00,358.45 L243.00,358.88 L243.10,357.79 L242.38,356.97 L243.44,356.73Z" fill="#111"/>
<path d="M330.00,278.10 V275.80 H403.30 V278.10" fill="none" stroke="#111" stroke-width="1.2"/>
<path d="M362.80,269.60 L363.36,270.53 L364.42,270.77 L363.70,271.59 L363.80,272.68 L362.80,272.25 L361.80,272.68 L361.90,271.59 L361.18,270.77 L362.24,270.53Z M366.00,269.60 L366.56,270.53 L367.62,270.77 L366.90,271.59 L367.00,272.68 L366.00,272.25 L365.00,272.68 L365.10,271.59 L364.38,270.77 L365.44,270.53Z M369.20,269.60 L369.76,270.53 L370.82,270.77 L370.10,271.59 L370.20,272.68 L369.20,272.25 L368.20,272.68 L368.30,271.59 L367.58,270.77 L368.64,270.53Z" fill="#111"/>
<path d="M366.80,288.60 V286.30 H403.30 V288.60" fill="none" stroke="#111" stroke-width="1.2"/>
<path d="M383.80,280.80 L384.36,281.73 L385.42,281.97 L384.70,282.79 L384.80,283.88 L383.80,283.45 L382.80,283.88 L382.90,282.79 L382.18,281.97 L383.24,281.73Z M387.20,280.80 L387.76,281.73 L388.82,281.97 L388.10,282.79 L388.20,283.88 L387.20,283.45 L386.20,283.88 L386.30,282.79 L385.58,281.97 L386.64,281.73Z" fill="#111"/>
<path d="M330.80,399.50 V397.10 H367.50 V399.50" fill="none" stroke="#111" stroke-width="1.2"/>
<path d="M347.80,391.60 L348.36,392.53 L349.42,392.77 L348.70,393.59 L348.80,394.68 L347.80,394.25 L346.80,394.68 L346.90,393.59 L346.18,392.77 L347.24,392.53Z M351.20,391.60 L351.76,392.53 L352.82,392.77 L352.10,393.59 L352.20,394.68 L351.20,394.25 L350.20,394.68 L350.30,393.59 L349.58,392.77 L350.64,392.53Z" fill="#111"/>
<rect x="223.10" y="436.50" width="1.00" height="2.20" fill="#111"/>
<rect x="258.90" y="436.50" width="1.00" height="2.20" fill="#111"/>
<rect x="295.00" y="436.50" width="1.00" height="2.20" fill="#111"/>
<rect x="331.10" y="436.50" width="1.00" height="2.20" fill="#111"/>
<rect x="366.90" y="436.50" width="1.00" height="2.20" fill="#111"/>
<rect x="402.80" y="436.50" width="1.00" height="2.20" fill="#111"/>
<text x="223.60" y="446.60" font-size="8.3" fill="#7d96a9" text-anchor="middle" font-weight="normal" textLength="27.20" lengthAdjust="spacingAndGlyphs" stroke="#7d96a9" stroke-width="0.3">Control</text>
<text x="259.40" y="446.60" font-size="8.2" fill="#38f50c" text-anchor="middle" font-weight="bold" textLength="25.50" lengthAdjust="spacingAndGlyphs">pMIRH</text>
<text x="259.40" y="455.50" font-size="8.2" fill="#38f50c" text-anchor="middle" font-weight="bold" textLength="18.20" lengthAdjust="spacingAndGlyphs">130b</text>
<text x="295.50" y="446.60" font-size="8.2" fill="#1b3db0" text-anchor="middle" font-weight="bold" textLength="25.50" lengthAdjust="spacingAndGlyphs">pMIRH</text>
<text x="295.50" y="455.50" font-size="8.2" fill="#1b3db0" text-anchor="middle" font-weight="bold" textLength="18.00" lengthAdjust="spacingAndGlyphs">128a</text>
<text x="331.60" y="446.60" font-size="8.3" fill="#7d96a9" text-anchor="middle" font-weight="normal" textLength="27.20" lengthAdjust="spacingAndGlyphs" stroke="#7d96a9" stroke-width="0.3">Control</text>
<text x="367.40" y="446.60" font-size="8.2" fill="#38f50c" text-anchor="middle" font-weight="bold" textLength="25.50" lengthAdjust="spacingAndGlyphs">pMIRH</text>
<text x="367.40" y="455.50" font-size="8.2" fill="#38f50c" text-anchor="middle" font-weight="bold" textLength="18.20" lengthAdjust="spacingAndGlyphs">130b</text>
<text x="403.30" y="446.60" font-size="8.2" fill="#1b3db0" text-anchor="middle" font-weight="bold" textLength="25.50" lengthAdjust="spacingAndGlyphs">pMIRH</text>
<text x="403.30" y="455.50" font-size="8.2" fill="#1b3db0" text-anchor="middle" font-weight="bold" textLength="18.00" lengthAdjust="spacingAndGlyphs">128a</text>
<rect x="310.30" y="431.30" width="1.00" height="40.00" fill="#222"/>
<rect x="247.7" y="460.7" width="23.5" height="12.0" rx="0.6" fill="#fff" stroke="#111" stroke-width="1.25"/>
<text x="250.80" y="469.50" font-size="9.3" fill="#2a2a2a" text-anchor="start" font-weight="normal" textLength="17.00" lengthAdjust="spacingAndGlyphs">IgM+</text>
<rect x="358.0" y="460.7" width="23.8" height="12.0" rx="0.6" fill="#fff" stroke="#111" stroke-width="1.25"/>
<text x="362.60" y="469.50" font-size="9.3" fill="#2a2a2a" text-anchor="start" font-weight="normal" textLength="15.20" lengthAdjust="spacingAndGlyphs">Il7r+</text>
</svg>
</body></html>
